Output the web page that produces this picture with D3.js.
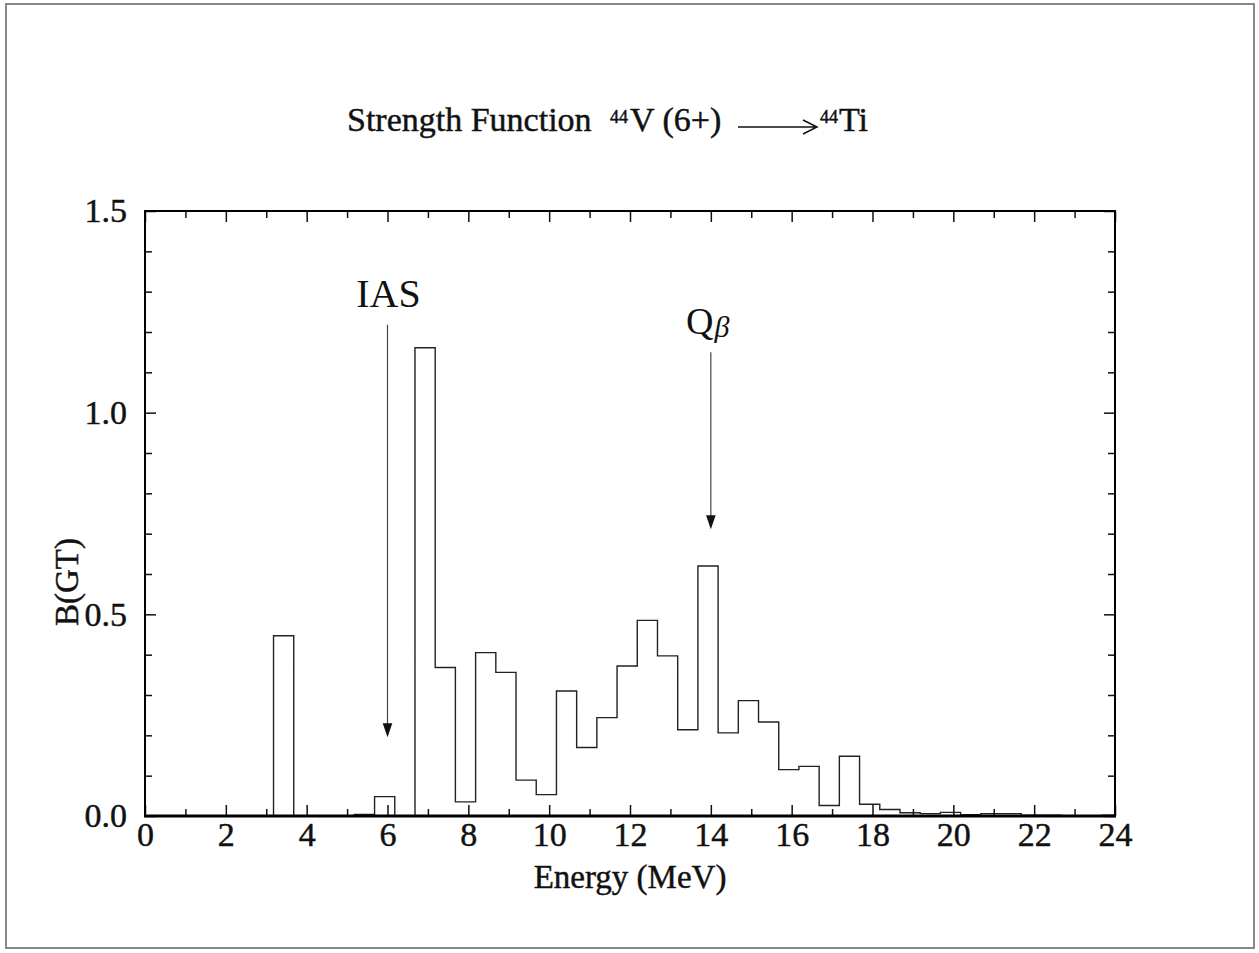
<!DOCTYPE html>
<html>
<head>
<meta charset="utf-8">
<script src="https://cdn.jsdelivr.net/npm/d3@7"></script>
<style>
  html, body { margin: 0; padding: 0; background: #fff; }
  svg { display: block; }
  text { font-family: "Liberation Serif", "Times New Roman", serif; fill: #111; }
  .heavy { stroke: #111; stroke-width: 0.45px; }
</style>
</head>
<body>
<svg id="chart" width="1259" height="953"></svg>
<script>
// ---- data ----
const binLowEdges = [2.68, 3.18, 3.68, 4.18, 4.68, 5.18, 5.68, 6.18, 6.68, 7.18, 7.68, 8.18, 8.68, 9.18, 9.68,
  10.18, 10.68, 11.18, 11.68, 12.18, 12.68, 13.18, 13.68, 14.18, 14.68, 15.18, 15.68, 16.18, 16.68, 17.18,
  17.68, 18.18, 18.68, 19.18, 19.68, 20.18, 20.68, 21.18, 21.68, 22.18, 22.68, 23.18, 23.68];
const bgtValues = [0, 0.447, 0, 0, 0, 0.004, 0.048, 0, 1.161, 0.368, 0.035, 0.405, 0.356, 0.089, 0.053,
  0.310, 0.170, 0.244, 0.372, 0.485, 0.397, 0.214, 0.620, 0.206, 0.286, 0.233, 0.115, 0.123, 0.026, 0.148,
  0.029, 0.016, 0.008, 0.006, 0.009, 0.003, 0.006, 0.006, 0.002, 0.002, 0.001, 0.001, 0.002];
const histEnd = 24.0;

const xTickMajor = [0, 2, 4, 6, 8, 10, 12, 14, 16, 18, 20, 22, 24];
const xTickMinor = [1, 3, 5, 7, 9, 11, 13, 15, 17, 19, 21, 23];
const yTickMajor = [0.0, 0.5, 1.0, 1.5];
const yTickMinor = [0.1, 0.2, 0.3, 0.4, 0.6, 0.7, 0.8, 0.9, 1.1, 1.2, 1.3, 1.4];

const annotLabels = ["IAS", "Q"];
const annotEnergy = [6, 14];
const annotTop = [1.218, 1.150];
const annotTip = [0.195, 0.711];

// ---- layout ----
const svg = d3.select("#chart");
const x = d3.scaleLinear().domain([0, 24]).range([145, 1115]);
const y = d3.scaleLinear().domain([0, 1.5]).range([816, 211]);
const majorLen = 11, minorLen = 7;

// outer frame
svg.append("rect").attr("x", 6).attr("y", 4).attr("width", 1248).attr("height", 944)
  .attr("fill", "none").attr("stroke", "#888").attr("stroke-width", 2);

// histogram
const pts = binLowEdges.map((e, i) => [e, bgtValues[i]]);
pts.push([histEnd, bgtValues[bgtValues.length - 1]]);
const line = d3.line().x(d => x(d[0])).y(d => y(d[1])).curve(d3.curveStepAfter);
svg.append("path").datum(pts).attr("d", line)
  .attr("fill", "none").attr("stroke", "#222").attr("stroke-width", 1.4);

// axes
function styleAxis(g) {
  g.select(".domain").remove();
  g.selectAll(".tick line").attr("stroke", "#111").attr("stroke-width", 1.5);
  g.selectAll(".tick text").attr("font-size", 34).attr("fill", "#111").attr("class", "heavy")
    .attr("font-family", "Liberation Serif, serif");
}
svg.append("g").attr("transform", `translate(0,${y(0)})`)
  .call(d3.axisBottom(x).tickValues(xTickMajor).tickSize(-majorLen).tickPadding(6).tickFormat(d3.format("d")))
  .call(styleAxis);
svg.append("g").attr("transform", `translate(0,${y(0)})`)
  .call(d3.axisBottom(x).tickValues(xTickMinor).tickSize(-minorLen).tickFormat(""))
  .call(styleAxis);
svg.append("g").attr("transform", `translate(0,${y(1.5)})`)
  .call(d3.axisTop(x).tickValues(xTickMajor).tickSize(-majorLen).tickFormat(""))
  .call(styleAxis);
svg.append("g").attr("transform", `translate(0,${y(1.5)})`)
  .call(d3.axisTop(x).tickValues(xTickMinor).tickSize(-minorLen).tickFormat(""))
  .call(styleAxis);
svg.append("g").attr("transform", `translate(${x(0)},0)`)
  .call(d3.axisLeft(y).tickValues(yTickMajor).tickSize(-majorLen).tickPadding(18).tickFormat(d3.format(".1f")))
  .call(styleAxis);
svg.append("g").attr("transform", `translate(${x(0)},0)`)
  .call(d3.axisLeft(y).tickValues(yTickMinor).tickSize(-minorLen).tickFormat(""))
  .call(styleAxis);
svg.append("g").attr("transform", `translate(${x(24)},0)`)
  .call(d3.axisRight(y).tickValues(yTickMajor).tickSize(-majorLen).tickFormat(""))
  .call(styleAxis);
svg.append("g").attr("transform", `translate(${x(24)},0)`)
  .call(d3.axisRight(y).tickValues(yTickMinor).tickSize(-minorLen).tickFormat(""))
  .call(styleAxis);

// frame of plot
svg.append("rect").attr("x", x(0)).attr("y", y(1.5)).attr("width", x(24) - x(0)).attr("height", y(0) - y(1.5))
  .attr("fill", "none").attr("stroke", "#000").attr("stroke-width", 2);
svg.append("line").attr("x1", x(0) - 1).attr("x2", x(24) + 1).attr("y1", y(0)).attr("y2", y(0))
  .attr("stroke", "#000").attr("stroke-width", 3);

// axis titles
svg.append("text").attr("class", "heavy").attr("x", (x(0) + x(24)) / 2).attr("y", 888).attr("text-anchor", "middle")
  .attr("font-size", 33).text("Energy (MeV)");
svg.append("text").attr("class", "heavy").attr("transform", "translate(78,582) rotate(-90)").attr("text-anchor", "middle")
  .attr("font-size", 33).text("B(GT)");

// title
const tY = 131;
svg.append("text").attr("class", "heavy").attr("x", 347).attr("y", tY).attr("font-size", 34).text("Strength Function");
svg.append("text").attr("class", "heavy").attr("x", 610).attr("y", tY - 8).attr("font-size", 18).text("44");
svg.append("text").attr("class", "heavy").attr("x", 630).attr("y", tY).attr("font-size", 34).text("V (6+)");
svg.append("path").attr("d", `M738,127 L817,127 M803,120 L817,127 L803,134`)
  .attr("fill", "none").attr("stroke", "#111").attr("stroke-width", 1.5);
svg.append("text").attr("class", "heavy").attr("x", 820).attr("y", tY - 8).attr("font-size", 18).text("44");
svg.append("text").attr("class", "heavy").attr("x", 839).attr("y", tY).attr("font-size", 34).text("Ti");

// annotations
annotEnergy.forEach((e, i) => {
  const ax = x(e), yt = y(annotTop[i]), yp = y(annotTip[i]);
  svg.append("line").attr("x1", ax).attr("x2", ax).attr("y1", yt).attr("y2", yp - 13)
    .attr("stroke", "#444").attr("stroke-width", 1.2);
  svg.append("path").attr("d", `M${ax - 4.8},${yp - 14} L${ax + 4.8},${yp - 14} L${ax},${yp} Z`)
    .attr("fill", "#111");
});
svg.append("text").attr("x", x(annotEnergy[0]) + 1).attr("y", 307).attr("text-anchor", "middle")
  .attr("font-size", 40).attr("fill", "#333").text(annotLabels[0]);
const q = svg.append("text").attr("x", 686).attr("y", 334).attr("font-size", 38).attr("fill", "#333");
q.append("tspan").text(annotLabels[1]);
q.append("tspan").attr("dy", 3).attr("dx", 1).attr("font-size", 30).attr("font-style", "italic").text("β");
</script>
</body>
</html>
